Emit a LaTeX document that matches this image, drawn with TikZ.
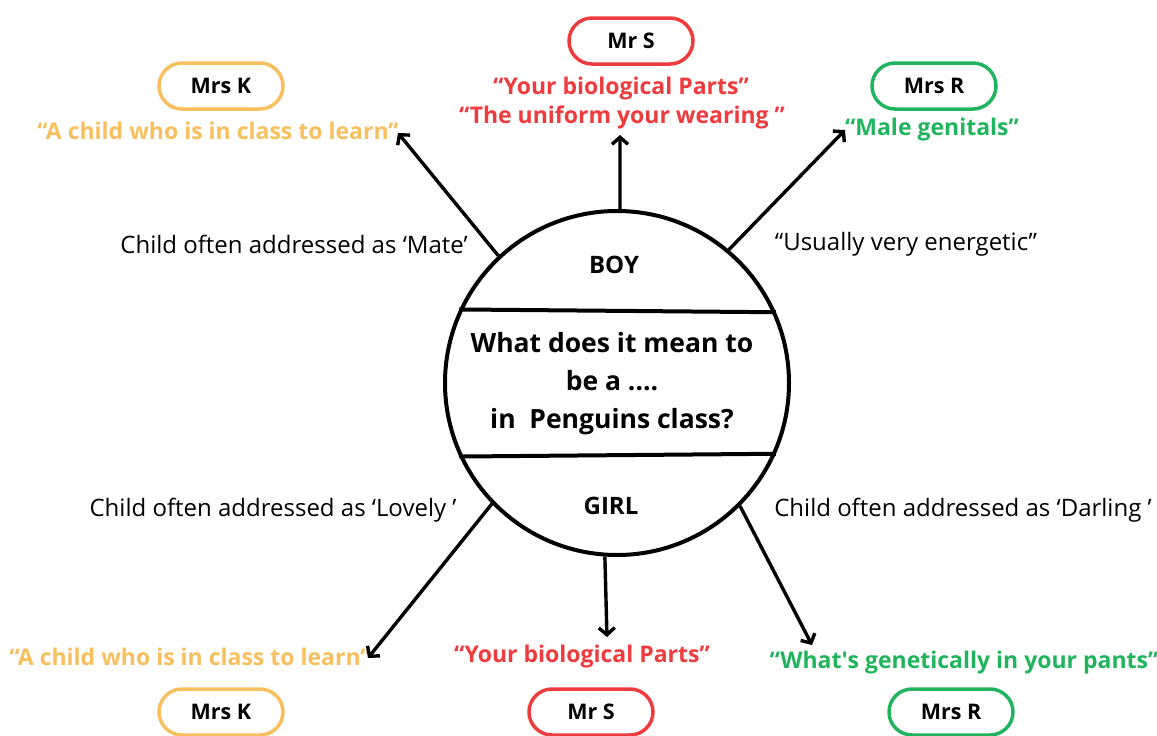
\documentclass[tikz,border=0pt]{standalone}
\usepackage{fontspec}
\setmainfont{Open Sans}
\usetikzlibrary{arrows.meta,shapes.misc}
\definecolor{kcol}{HTML}{F8BF5E}
\definecolor{scol}{HTML}{EE3B3E}
\definecolor{rcol}{HTML}{20B45C}
\begin{document}
\begin{tikzpicture}[x=1pt,y=-1pt,
  tag/.style={draw, rounded rectangle, line width=3.5pt, minimum width=124pt, minimum height=46pt, inner sep=0pt, font=\fontsize{21.5}{24}\selectfont\bfseries},
  quote/.style={font=\fontsize{23}{26}\selectfont\bfseries, inner sep=0pt},
  plain/.style={font=\fontsize{24}{28}\selectfont, inner sep=0pt},
  arr/.style={line width=3.4pt, -{Straight Barb[length=7pt,width=16pt]}}]
\useasboundingbox (0,0) rectangle (1157,736);

% central circle
\node[draw, circle, line width=4pt, minimum size=344pt, inner sep=0pt] (c) at (617,383) {};
\draw[line width=4pt] (c.155.4) -- (c.24.6);
\draw[line width=4pt] (c.-155.4) -- (c.-24.6);
\node[quote, font=\fontsize{24}{26}\selectfont\bfseries] (boy) at (614,265) {BOY};
\node[quote, font=\fontsize{24}{26}\selectfont\bfseries] (girl) at (611,506) {GIRL};
\node[font=\fontsize{26.5}{38}\selectfont\bfseries, align=center, inner sep=0pt] (q) at (612,384) {What does it mean to\\be a ....\\in\ \ Penguins class?};

% top tags
\node[tag, draw=kcol] (mk1) at (221,86) {Mrs K};
\node[tag, draw=scol] (ms1) at (631,41) {Mr S};
\node[tag, draw=rcol] (mr1) at (934,86) {Mrs R};
\node[quote, text=kcol] (qk1) at (218,131) {“A child who is in class to learn”};
\node[quote, text=scol] (qs1) at (621,89) {“Your biological Parts”};
\node[quote, text=scol] (qs2) at (622,117) {“The uniform your wearing ”};
\node[quote, text=rcol] (qr1) at (932,130) {“Male genitals”};

% side labels
\node[plain] (l1) at (294,244) {Child often addressed as ‘Mate’};
\node[plain] (l2) at (906,244) {“Usually very energetic”};
\node[plain] (l3) at (273,510) {Child often addressed as ‘Lovely ’};
\node[plain] (l4) at (963,510) {Child often addressed as ‘Darling ’};

% bottom quotes and tags
\node[quote, text=kcol] (qk2) at (190,657) {“A child who is in class to learn”};
\node[quote, text=scol] (qs3) at (582,657) {“Your biological Parts”};
\node[quote, text=rcol] (qr2) at (964,663) {“What\textquotesingle s genetically in your pants”};
\node[tag, draw=kcol] (mk2) at (221,712) {Mrs K};
\node[tag, draw=scol] (ms2) at (591,712) {Mr S};
\node[tag, draw=rcol] (mr2) at (951,712) {Mrs R};

% arrow ends
\coordinate (e1) at (398,133);
\coordinate (e2) at (620,135);
\coordinate (e3) at (845,130);
\coordinate (e4) at (368,658);
\coordinate (e5) at (607,637);
\coordinate (e6) at (812,645);

\draw[arr] (c.133.6) -- (e1);
\draw[arr] (c.89) -- (e2);
\draw[arr] (c.50.8) -- (e3);
\draw[arr] (c.224.5) -- (e4);
\draw[arr] (c.266.5) -- (e5);
\draw[arr] (c.315.5) -- (e6);
\end{tikzpicture}
\end{document}
